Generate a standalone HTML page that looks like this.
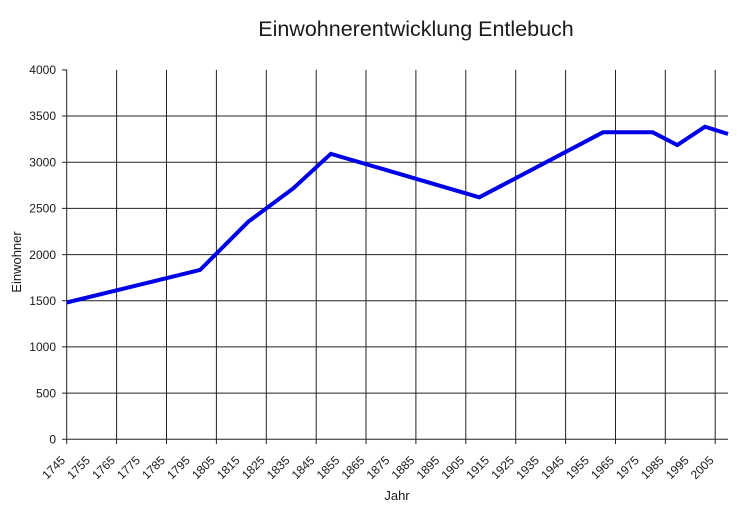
<!DOCTYPE html>
<html>
<head>
<meta charset="utf-8">
<style>
html,body{margin:0;padding:0;background:#fff;}
svg{display:block;}
text{font-family:"Liberation Sans",Arial,sans-serif;fill:#1a1a1a;}
</style>
</head>
<body>
<svg width="745" height="512" viewBox="0 0 745 512" xmlns="http://www.w3.org/2000/svg">
<rect width="745" height="512" fill="#fff"/>
<text x="416" y="36" font-size="21.5" text-anchor="middle">Einwohnerentwicklung Entlebuch</text>

<g stroke="#222" stroke-width="1" fill="none">
  <line x1="62" y1="393.1" x2="728" y2="393.1"/>
  <line x1="62" y1="346.9" x2="728" y2="346.9"/>
  <line x1="62" y1="300.7" x2="728" y2="300.7"/>
  <line x1="62" y1="254.6" x2="728" y2="254.6"/>
  <line x1="62" y1="208.4" x2="728" y2="208.4"/>
  <line x1="62" y1="162.2" x2="728" y2="162.2"/>
  <line x1="62" y1="116.0" x2="728" y2="116.0"/>
  <line x1="62" y1="69.9" x2="67" y2="69.9"/>
  <line x1="62" y1="439.3" x2="728" y2="439.3"/>
  <line x1="66.7" y1="69.9" x2="66.7" y2="444"/>
  <line x1="116.6" y1="69.9" x2="116.6" y2="444"/>
  <line x1="166.5" y1="69.9" x2="166.5" y2="444"/>
  <line x1="216.4" y1="69.9" x2="216.4" y2="444"/>
  <line x1="266.3" y1="69.9" x2="266.3" y2="444"/>
  <line x1="316.2" y1="69.9" x2="316.2" y2="444"/>
  <line x1="366.0" y1="69.9" x2="366.0" y2="444"/>
  <line x1="415.9" y1="69.9" x2="415.9" y2="444"/>
  <line x1="465.8" y1="69.9" x2="465.8" y2="444"/>
  <line x1="515.7" y1="69.9" x2="515.7" y2="444"/>
  <line x1="565.6" y1="69.9" x2="565.6" y2="444"/>
  <line x1="615.5" y1="69.9" x2="615.5" y2="444"/>
  <line x1="665.3" y1="69.9" x2="665.3" y2="444"/>
  <line x1="715.2" y1="69.9" x2="715.2" y2="444"/>
</g>

<g font-size="12" text-anchor="end">
  <text x="56" y="443.5">0</text>
  <text x="56" y="397.3">500</text>
  <text x="56" y="351.1">1000</text>
  <text x="56" y="304.9">1500</text>
  <text x="56" y="258.8">2000</text>
  <text x="56" y="212.6">2500</text>
  <text x="56" y="166.4">3000</text>
  <text x="56" y="120.2">3500</text>
  <text x="56" y="74.1">4000</text>
</g>

<g font-size="12" text-anchor="end">
  <text transform="translate(66,461) rotate(-45)">1745</text>
  <text transform="translate(90.9,461) rotate(-45)">1755</text>
  <text transform="translate(115.9,461) rotate(-45)">1765</text>
  <text transform="translate(140.8,461) rotate(-45)">1775</text>
  <text transform="translate(165.8,461) rotate(-45)">1785</text>
  <text transform="translate(190.7,461) rotate(-45)">1795</text>
  <text transform="translate(215.7,461) rotate(-45)">1805</text>
  <text transform="translate(240.6,461) rotate(-45)">1815</text>
  <text transform="translate(265.6,461) rotate(-45)">1825</text>
  <text transform="translate(290.5,461) rotate(-45)">1835</text>
  <text transform="translate(315.4,461) rotate(-45)">1845</text>
  <text transform="translate(340.4,461) rotate(-45)">1855</text>
  <text transform="translate(365.3,461) rotate(-45)">1865</text>
  <text transform="translate(390.3,461) rotate(-45)">1875</text>
  <text transform="translate(415.2,461) rotate(-45)">1885</text>
  <text transform="translate(440.2,461) rotate(-45)">1895</text>
  <text transform="translate(465.1,461) rotate(-45)">1905</text>
  <text transform="translate(490.0,461) rotate(-45)">1915</text>
  <text transform="translate(515.0,461) rotate(-45)">1925</text>
  <text transform="translate(539.9,461) rotate(-45)">1935</text>
  <text transform="translate(564.9,461) rotate(-45)">1945</text>
  <text transform="translate(589.8,461) rotate(-45)">1955</text>
  <text transform="translate(614.8,461) rotate(-45)">1965</text>
  <text transform="translate(639.7,461) rotate(-45)">1975</text>
  <text transform="translate(664.6,461) rotate(-45)">1985</text>
  <text transform="translate(689.6,461) rotate(-45)">1995</text>
  <text transform="translate(714.5,461) rotate(-45)">2005</text>
</g>

<text x="397" y="500" font-size="13" text-anchor="middle">Jahr</text>
<text transform="translate(21,262) rotate(-90)" font-size="13" text-anchor="middle">Einwohner</text>

<polyline fill="none" stroke="#0000e6" stroke-width="4" stroke-linejoin="miter" stroke-linecap="butt"
  points="66.7,302.5 200,270 248.3,221.7 293.3,188.3 330.8,153.8 479.3,197.3 603,132.3 652.7,132.3 677.3,145 705,126.7 728,134"/>
</svg>
</body>
</html>
